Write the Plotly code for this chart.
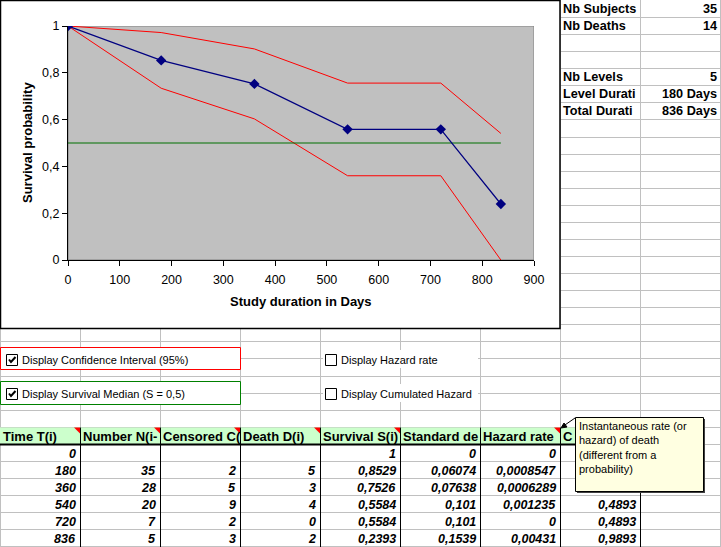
import plotly.graph_objects as go

# ---- values ----
TIME     = [0, 180, 360, 540, 720, 836]
N_PREV   = [None, 35, 28, 20, 7, 5]
CENSORED = [None, 2, 5, 9, 2, 3]
DEATHS   = [None, 5, 3, 4, 0, 2]
SURVIVAL = [1, 0.8529, 0.7526, 0.5584, 0.5584, 0.2393]
STD_DEV  = [0, 0.06074, 0.07638, 0.101, 0.101, 0.1539]
HAZARD   = [0, 0.0008547, 0.0006289, 0.001235, 0, 0.00431]
CUM_HAZ  = [None, None, None, 0.4893, 0.4893, 0.9893]  # first rows sit under the comment box
CI_UPPER = [1, 0.972, 0.902, 0.756, 0.756, 0.541]
CI_LOWER = [1, 0.734, 0.603, 0.360, 0.360, 0.0]
MEDIAN   = 0.5

X_TICKS = [0, 100, 200, 300, 400, 500, 600, 700, 800, 900]
Y_TICKS = [0, 0.2, 0.4, 0.6, 0.8, 1]

HEADERS      = ["Time T(i)", "Number N(i-", "Censored C(", "Death D(i)",
                "Survival S(i)", "Standard de", "Hazard rate", "C"]
HEADER_FLAGS = [True, True, True, True, True, False, True, False]

INFO_LABELS = ["Nb Subjects", "Nb Deaths", "", "", "Nb Levels", "Level Durati", "Total Durati"]
INFO_VALUES = ["35", "14", "", "", "5", "180 Days", "836 Days"]

OPTIONS = [("Display Confidence Interval (95%)", True),
           ("Display Survival Median (S = 0,5)", True),
           ("Display Hazard rate", False),
           ("Display Cumulated Hazard", False)]

COMMENT = "Instantaneous rate (or<br>hazard) of death<br>(different from a<br>probability)"

# ---- page geometry (pixels) ----
W, H = 721, 547
COL_W = 80
ROW_H = 17.07
PLOT = (68, 26, 534, 260)     # left, top, right, bottom of grey plot area
FONT = "Arial, Liberation Sans, sans-serif"
GRID = "#C0C0C0"


def fx(x):
    return x / W


def fy(y):
    return 1 - y / H


def row(k):
    return int(round(ROW_H * k)) + 0.5


def rect(x0, y0, x1, y1, **kw):
    return dict(type="rect", xref="paper", yref="paper", layer="below",
                x0=fx(x0), x1=fx(x1), y0=fy(y1), y1=fy(y0), **kw)


def path(points, **kw):
    d = "M" + "L".join(f"{fx(x)},{fy(y)}" for x, y in points)
    return dict(type="path", xref="paper", yref="paper", layer="below", path=d, **kw)


def fmt(v):
    return "" if v is None else f"{v:.4g}".replace(".", ",")


def text(x, y, s, anchor="left", size=11, bold=False, italic=False, **kw):
    return dict(x=fx(x), y=fy(y), xref="paper", yref="paper", text=s, showarrow=False,
                xanchor=anchor, yanchor="middle",
                font=dict(family=FONT, size=size, color="black",
                          weight="bold" if bold else "normal",
                          style="italic" if italic else "normal"), **kw)


fig = go.Figure()

fig.add_trace(go.Scatter(x=TIME, y=CI_UPPER, mode="lines", line={"color": "#FF0000", "width": 1}))
fig.add_trace(go.Scatter(x=TIME, y=CI_LOWER, mode="lines", line={"color": "#FF0000", "width": 1}))
fig.add_trace(go.Scatter(x=[TIME[0], TIME[-1]], y=[MEDIAN, MEDIAN], mode="lines",
                         line={"color": "#007000", "width": 1}))
fig.add_trace(go.Scatter(x=TIME, y=SURVIVAL, mode="lines+markers",
                         line={"color": "#000080", "width": 1.2},
                         marker={"symbol": "diamond", "size": 8, "color": "#000080"}))

shapes = []

# sheet gridlines
grid = ""
for c in range(0, W, COL_W):
    grid += f"M{fx(c + 0.5)},{fy(0)}L{fx(c + 0.5)},{fy(H)}"
for k in range(1, 33):
    grid += f"M{fx(0)},{fy(row(k))}L{fx(W)},{fy(row(k))}"
shapes.append(dict(type="path", xref="paper", yref="paper", layer="below", path=grid,
                   line={"color": GRID, "width": 1}))

# table header + borders
shapes.append(rect(0, row(25), 640, row(26), fillcolor="#CCFFCC", line={"width": 0}))
for c in range(COL_W, 641, COL_W):
    shapes.append(path([(c + 0.5, row(25)), (c + 0.5, H)], line={"color": "black", "width": 1}))
shapes.append(path([(0, row(26)), (641, row(26))], line={"color": "black", "width": 2}))
for i, flag in enumerate(HEADER_FLAGS):
    if flag:
        r = (i + 1) * COL_W
        shapes.append(path([(r - 6, row(25)), (r, row(25)), (r, row(25) + 6), (r - 6, row(25))],
                           fillcolor="#FF0000", line={"width": 0}))

# chart object
shapes.append(rect(0.5, 0.5, 560, 328.5, fillcolor="white", line={"color": "black", "width": 1.5}))
shapes.append(dict(type="rect", xref="x", yref="y", layer="below", x0=0, x1=900, y0=0, y1=1,
                   fillcolor="#C0C0C0", line={"color": "#808080", "width": 1}))

# option panels
shapes.append(rect(0.5, 347.5, 240.5, 369.5, fillcolor="white", line={"color": "#FF0000", "width": 1}))
shapes.append(rect(0.5, 381.5, 240.5, 404.5, fillcolor="white", line={"color": "#008000", "width": 1}))
shapes.append(rect(323, 350, 478, 368, fillcolor="white", line={"width": 0}))
shapes.append(rect(323, 384, 478, 402, fillcolor="white", line={"width": 0}))
boxes = [(6, 354), (6, 388), (325, 354), (325, 388)]
annotations = []
for (bx, by), (label, checked) in zip(boxes, OPTIONS):
    shapes.append(rect(bx + 0.5, by + 0.5, bx + 11.5, by + 11.5, fillcolor="white",
                       line={"color": "black", "width": 1}))
    if checked:
        shapes.append(path([(bx + 3, by + 5.5), (bx + 5, by + 8), (bx + 9.5, by + 3)],
                           line={"color": "black", "width": 2}))
    annotations.append(text(bx + 14, by + 5.5, label, size=11))

# comment box
shapes.append(rect(577, 419, 705, 493, fillcolor="#404040", line={"width": 0}))
shapes.append(rect(575.5, 417.5, 703.5, 491.5, fillcolor="#FFFFE1", line={"color": "black", "width": 1}))
shapes.append(path([(575, 418), (562, 427)], line={"color": "black", "width": 1}))
shapes.append(path([(561, 428), (567, 427), (564, 423), (561, 428)], fillcolor="black",
                   line={"color": "black", "width": 1}))

# axis titles
annotations.append(text(301, 301, "Study duration in Days", anchor="center", size=13, bold=True))
annotations.append(text(27, 143, "Survival probability", anchor="center", size=13, bold=True,
                        textangle=-90))

# info block top right
for k, (lab, val) in enumerate(zip(INFO_LABELS, INFO_VALUES)):
    yc = (row(k) + row(k + 1)) / 2
    if lab:
        annotations.append(text(561, yc, lab, size=12.7, bold=True))
        annotations.append(text(719, yc, val, anchor="right", size=12.7, bold=True))

# table header and rows
for i, h in enumerate(HEADERS):
    annotations.append(text(i * COL_W + 1, (row(25) + row(26)) / 2, h, size=13, bold=True))
columns = [TIME, N_PREV, CENSORED, DEATHS, SURVIVAL, STD_DEV, HAZARD, CUM_HAZ]
for j in range(len(TIME)):
    yc = (row(26 + j) + row(27 + j)) / 2 + 0.5
    for i, col in enumerate(columns):
        s = fmt(col[j])
        if s:
            annotations.append(text((i + 1) * COL_W - 2, yc, s, anchor="right", size=12.5,
                                    bold=True, italic=True))

annotations.append(dict(x=fx(577), y=fy(418), xref="paper", yref="paper", text=COMMENT,
                        showarrow=False, xanchor="left", yanchor="top", align="left",
                        font=dict(family=FONT, size=11, color="black")))

axis = dict(showline=True, linecolor="black", linewidth=1, ticks="outside", ticklen=5,
            tickcolor="black", showgrid=False, zeroline=False,
            tickfont=dict(family=FONT, size=12.5, color="black"))
fig.update_layout(
    width=W, height=H, autosize=False,
    margin=dict(l=0, r=0, t=0, b=0, pad=0, autoexpand=False),
    paper_bgcolor="white", plot_bgcolor="rgba(0,0,0,0)",
    showlegend=False, separators=",.",
    xaxis=dict(axis, range=[0, 900], tickvals=X_TICKS, ticklabelstandoff=3,
               domain=[fx(PLOT[0]), fx(PLOT[2])]),
    yaxis=dict(axis, range=[0, 1], tickvals=Y_TICKS, domain=[fy(PLOT[3]), fy(PLOT[1])]),
    shapes=shapes, annotations=annotations,
)

fig.write_html("out.html", config={"displayModeBar": False},
               post_script="document.body.style.margin='0';")
